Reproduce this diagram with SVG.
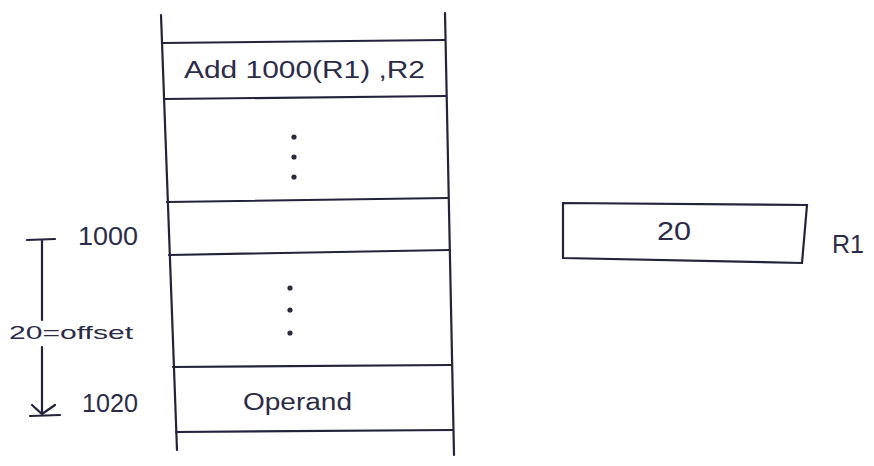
<svg xmlns="http://www.w3.org/2000/svg" width="874" height="466" viewBox="0 0 874 466">
<style>
.ln{stroke:#23233a;stroke-width:2.2;fill:none;stroke-linecap:round}
.tx{font-family:"Liberation Sans",Arial,sans-serif;fill:#2c2c48}
.dot{fill:#2a2a3a}
</style>
<rect width="874" height="466" fill="#ffffff"/>
<g id="memory">
<path class="ln" d="M161 15 L177 450"/>
<path class="ln" d="M445 13 L454 455"/>
<path class="ln" d="M162 43 L445 40"/>
<path class="ln" d="M164 99 L446 96"/>
<path class="ln" d="M167 202 L448 198"/>
<path class="ln" d="M169 255 L450 250"/>
<path class="ln" d="M173 367 L452 365"/>
<path class="ln" d="M176 432 L453 430"/>
</g>
<g id="instr">
<text class="tx" x="184" y="78" font-size="23" textLength="241" lengthAdjust="spacingAndGlyphs">Add  1000(R1) ,R2</text>
</g>
<g id="gap1">
<circle class="dot" cx="294" cy="137" r="2.6"/>
<circle class="dot" cx="294" cy="157" r="2.6"/>
<circle class="dot" cx="294" cy="177" r="2.6"/>
</g>
<g id="cell1000">
</g>
<g id="gap2">
<circle class="dot" cx="290" cy="288" r="2.6"/>
<circle class="dot" cx="290" cy="310" r="2.6"/>
<circle class="dot" cx="290" cy="333" r="2.6"/>
</g>
<g id="operand">
<text class="tx" x="243" y="410" font-size="23" textLength="109" lengthAdjust="spacingAndGlyphs">Operand</text>
</g>
<g id="addr1000">
<text class="tx" x="78" y="245" font-size="26" textLength="60" lengthAdjust="spacingAndGlyphs">1000</text>
</g>
<g id="addr1020">
<text class="tx" x="82" y="412" font-size="25" textLength="56" lengthAdjust="spacingAndGlyphs">1020</text>
</g>
<g id="offsetlabel">
<text class="tx" x="9" y="339" font-size="19" textLength="124" lengthAdjust="spacingAndGlyphs">20=offset</text>
</g>
<g id="connectors">
<path class="ln" d="M27 240 L55 239"/>
<path class="ln" d="M42 240 L42 320"/>
<path class="ln" d="M42 347 L42 413"/>
<path class="ln" d="M32 405 L42 414 L55 405"/>
<path class="ln" d="M30 416 L60 415"/>
</g>
<g id="register">
<path class="ln" d="M563 203 L807 205 L802 263 L563 258 Z"/>
<text class="tx" x="657" y="240" font-size="26" textLength="34" lengthAdjust="spacingAndGlyphs">20</text>
</g>
<g id="r1label">
<text class="tx" x="832" y="253" font-size="25" textLength="32" lengthAdjust="spacingAndGlyphs">R1</text>
</g>
</svg>
